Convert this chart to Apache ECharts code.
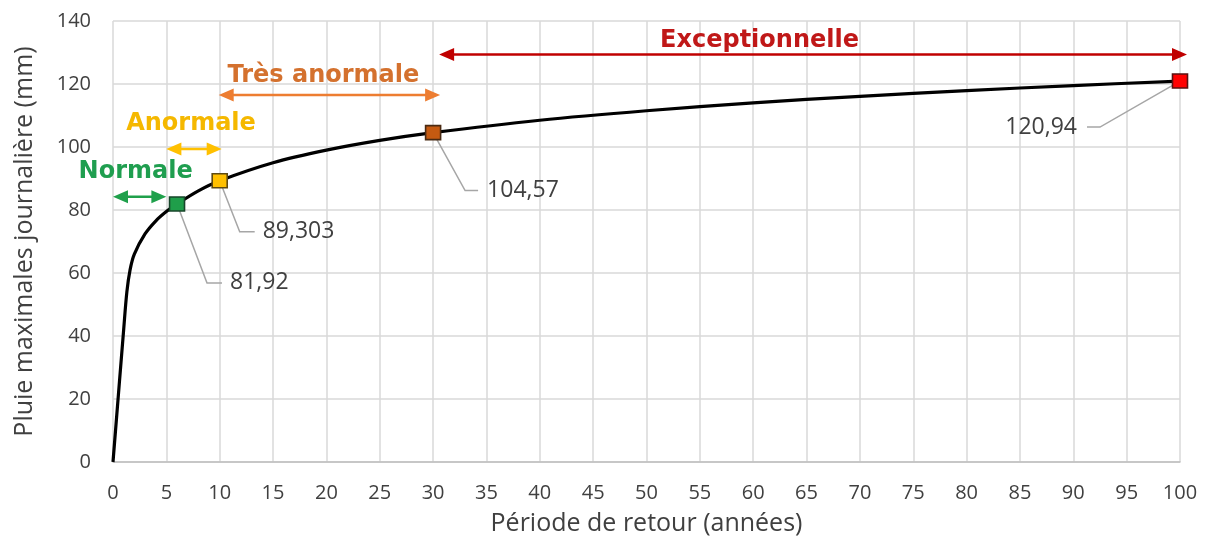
<!DOCTYPE html>
<html>
<head>
<meta charset="utf-8">
<script src="https://cdn.jsdelivr.net/npm/echarts@6/dist/echarts.min.js"></script>
<style>
  html, body { margin: 0; padding: 0; background: #ffffff; }
  #chart { width: 1207px; height: 543px; }
</style>
</head>
<body>
<div id="chart"></div>
<script>
// Fitted curve: return period (years) against daily maximum rainfall (mm)
const periods  = [0, 1, 1.3, 1.6, 2, 3, 4, 5, 6, 8, 10, 15, 20, 25, 30, 40, 50, 60, 70, 80, 90, 100];
const rainfall = [0, 42, 54, 61, 66, 72.4, 76.5, 79.5, 81.92, 86.1, 89.303, 95.0, 99.0, 102.1, 104.57, 108.5, 111.5, 114.0, 116.1, 117.9, 119.5, 120.94];

// Highlighted points on the curve and their value labels
const keyPeriods = [6, 10, 30, 100];
const keyValues  = [81.92, 89.303, 104.57, 120.94];
const keyLabels  = ['81,92', '89,303', '104,57', '120,94'];

// Event classes: period range covered by each arrow and the rainfall level it sits at
const classNames = ['Normale', 'Anormale', 'Très anormale', 'Exceptionnelle'];
const classFrom  = [0, 5, 10, 30];
const classTo    = [5, 10, 30, 100];
const classLevel = [84.2, 99.4, 116.5, 129.4];

// Axis ranges
const xMin = 0, xMax = 100, xStep = 5;
const yMin = 0, yMax = 140, yStep = 20;

// ---- styling ----
const textFont = '"Open Sans", "Liberation Sans", sans-serif';
const boldFont = '"DejaVu Sans", Verdana, sans-serif';

// marker colours + leader line geometry (pixels, relative to the marker)
const pointStyle = [
  { fill: '#1f9e4a', stroke: '#17452a', elbow: [30, 79],  tail: 15,  gap: 8 },
  { fill: '#ffc000', stroke: '#5e4a12', elbow: [20, 51],  tail: 15,  gap: 8 },
  { fill: '#c55a11', stroke: '#4a2a12', elbow: [32, 58],  tail: 13,  gap: 9 },
  { fill: '#ff0000', stroke: '#5a1010', elbow: [-80, 46], tail: -13, gap: 10 }
];

// arrow colours, tip padding and label offsets (pixels)
const classStyle = [
  { line: '#1fa04b', text: '#1f9e4f', pad: [0, 0], dx: -4,  dy: -25 },
  { line: '#ffc000', text: '#f5b800', pad: [0, 2], dx: -2,  dy: -25 },
  { line: '#ed7d31', text: '#d4712e', pad: [-1, 7], dx: -3, dy: -19 },
  { line: '#c00000', text: '#c01818', pad: [6, 7], dx: -47, dy: -14 }
];

const curveData = periods.map((p, i) => [p, rainfall[i]]);
const keyData = keyPeriods.map((p, i) => [p, keyValues[i], i]);
const classData = classNames.map((n, i) => [classFrom[i], classTo[i], classLevel[i], i]);

function arrowHead(tipX, y, dir) {
  const len = 15, half = 6.5;
  return [[tipX, y], [tipX - dir * len, y - half], [tipX - dir * len, y + half]];
}

const chart = echarts.init(document.getElementById('chart'), null, { renderer: 'canvas' });

chart.setOption({
  backgroundColor: '#ffffff',
  animation: false,
  grid: { left: 113, right: 27, top: 21, bottom: 81, containLabel: false },
  xAxis: {
    type: 'value',
    min: xMin, max: xMax, interval: xStep,
    name: 'Période de retour (années)',
    nameLocation: 'middle',
    nameGap: 49,
    nameTextStyle: { fontFamily: textFont, fontSize: 25, color: '#404040' },
    axisLine: { show: true, lineStyle: { color: '#bfbfbf', width: 1.5 } },
    axisTick: { show: false },
    axisLabel: { margin: 21, fontFamily: textFont, fontSize: 20, color: '#404040' },
    splitLine: { show: true, lineStyle: { color: '#d9d9d9', width: 1.5 } }
  },
  yAxis: {
    type: 'value',
    min: yMin, max: yMax, interval: yStep,
    name: 'Pluie maximales journalière (mm)',
    nameLocation: 'middle',
    nameGap: 76,
    nameRotate: 90,
    nameTextStyle: { fontFamily: textFont, fontSize: 25, color: '#404040' },
    axisLine: { show: false },
    axisTick: { show: false },
    axisLabel: { margin: 22, fontFamily: textFont, fontSize: 20, color: '#404040' },
    splitLine: { show: true, lineStyle: { color: '#d9d9d9', width: 1.5 } }
  },
  series: [
    {
      // rainfall curve
      type: 'line',
      data: curveData,
      smooth: 0.35,
      showSymbol: false,
      lineStyle: { color: '#000000', width: 3.2 },
      z: 3
    },
    {
      // highlighted points with their leader lines and values
      type: 'custom',
      data: keyData,
      z: 5,
      renderItem(params, api) {
        const i = api.value(2);
        const st = pointStyle[i];
        const p = api.coord([api.value(0), api.value(1)]);
        const elbow = [p[0] + st.elbow[0], p[1] + st.elbow[1]];
        const end = [elbow[0] + st.tail, elbow[1]];
        const right = st.tail > 0;
        return {
          type: 'group',
          children: [
            { type: 'polyline', shape: { points: [p, elbow, end] },
              style: { stroke: '#a6a6a6', lineWidth: 1.5, fill: null } },
            { type: 'rect', shape: { x: p[0] - 7.5, y: p[1] - 7, width: 15, height: 14 },
              style: { fill: st.fill, stroke: st.stroke, lineWidth: 1.6 } },
            { type: 'text',
              style: { text: keyLabels[i], x: end[0] + (right ? st.gap : -st.gap), y: end[1],
                       align: right ? 'left' : 'right', verticalAlign: 'middle',
                       font: '23px ' + textFont, fill: '#404040' } }
          ]
        };
      }
    },
    {
      // event class arrows
      type: 'custom',
      data: classData,
      z: 4,
      renderItem(params, api) {
        const i = api.value(3);
        const st = classStyle[i];
        const a = api.coord([api.value(0), api.value(2)]);
        const b = api.coord([api.value(1), api.value(2)]);
        const x0 = a[0] + st.pad[0], x1 = b[0] + st.pad[1], y = a[1];
        return {
          type: 'group',
          children: [
            { type: 'line', shape: { x1: x0 + 10, y1: y, x2: x1 - 10, y2: y },
              style: { stroke: st.line, lineWidth: 2.5 } },
            { type: 'polygon', shape: { points: arrowHead(x0, y, -1) }, style: { fill: st.line } },
            { type: 'polygon', shape: { points: arrowHead(x1, y, 1) }, style: { fill: st.line } },
            { type: 'text',
              style: { text: classNames[i], x: (a[0] + b[0]) / 2 + st.dx, y: y + st.dy,
                       align: 'center', verticalAlign: 'middle',
                       font: 'bold 24px ' + boldFont, fill: st.text } }
          ]
        };
      }
    }
  ]
});
</script>
</body>
</html>
